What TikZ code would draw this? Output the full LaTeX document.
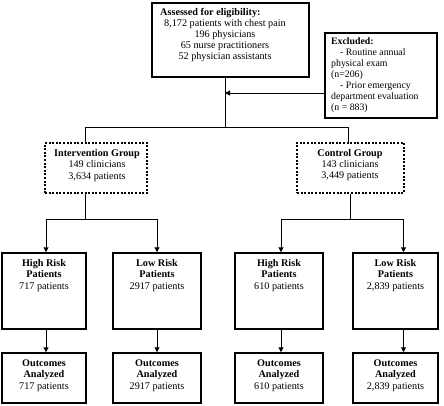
\documentclass[tikz,border=0pt]{standalone}
\usepackage{fontspec}
\setmainfont{Liberation Serif}
\usetikzlibrary{arrows.meta}
\begin{document}
\begin{tikzpicture}[x=1pt,y=-1pt,
  font=\fontsize{10.2}{11.2}\selectfont,
  box/.style={draw, line width=1.5pt, inner sep=0pt},
  dbox/.style={draw, line width=1.2pt, dash pattern=on 2pt off 1.6pt, inner sep=0pt},
  txt/.style={inner sep=0pt, align=center},
  conn/.style={draw, line width=1pt},
  arr/.style={conn, -{Triangle[length=5pt,width=5pt]}}]
\useasboundingbox (0,0) rectangle (444,405);
\fill[white] (0,0) rectangle (444,405);

% top box
\node[box, minimum width=157pt, minimum height=74pt] (top) at (230.5,40) {};
\node[txt, anchor=west] (t1) at (160,13) {\bfseries Assessed for eligibility:};
\node[txt] (t2) at (225,40.5) {8,172 patients with chest pain\\196 physicians\\65 nurse practitioners\\52 physician assistants};

% excluded box
\node[box, minimum width=112pt, minimum height=85pt] (excl) at (381,75.5) {};
\node[txt, align=left, anchor=north west, font=\fontsize{9.8}{11}\selectfont] (et) at (331,37.5)
  {\textbf{Excluded:}\\\hspace{9pt}- Routine annual\\physical exam\\(n=206)\\\hspace{9pt}- Prior emergency\\department evaluation\\(n = 883)};

% groups
\node[dbox, minimum width=102pt, minimum height=50pt] (int) at (96,168) {};
\node[txt] (intt) at (97,165.5) {\textbf{Intervention Group}\\149 clinicians\\3,634 patients};
\node[dbox, minimum width=107pt, minimum height=50pt] (ctl) at (350.5,168) {};
\node[txt] (ctlt) at (350,165) {\textbf{Control Group}\\143 clinicians\\3,449 patients};

% risk boxes
\node[box, minimum width=84pt, minimum height=76pt] (h1) at (44,291) {};
\node[box, minimum width=88pt, minimum height=76pt] (l1) at (157,291) {};
\node[box, minimum width=88pt, minimum height=76pt] (h2) at (279,291) {};
\node[box, minimum width=85pt, minimum height=76pt] (l2) at (395.5,291) {};
\begin{scope}[font=\fontsize{10.2}{11.5}\selectfont]
\node[txt] (h1t) at (44,275.5) {\textbf{High Risk}\\\textbf{Patients}\\717 patients};
\node[txt] (l1t) at (157,275.5) {\textbf{Low Risk}\\\textbf{Patients}\\2917 patients};
\node[txt] (h2t) at (279,275.5) {\textbf{High Risk}\\\textbf{Patients}\\610 patients};
\node[txt] (l2t) at (395.5,275.5) {\textbf{Low Risk}\\\textbf{Patients}\\2,839 patients};
\end{scope}

% outcome boxes
\node[box, minimum width=84pt, minimum height=50pt] (o1) at (44,378) {};
\node[box, minimum width=88pt, minimum height=50pt] (o2) at (157,378) {};
\node[box, minimum width=88pt, minimum height=50pt] (o3) at (279,378) {};
\node[box, minimum width=85pt, minimum height=50pt] (o4) at (395.5,378) {};
\begin{scope}[font=\fontsize{10.2}{11.5}\selectfont]
\node[txt] (o1t) at (44,375.5) {\textbf{Outcomes}\\\textbf{Analyzed}\\717 patients};
\node[txt] (o2t) at (157,375.5) {\textbf{Outcomes}\\\textbf{Analyzed}\\2917 patients};
\node[txt] (o3t) at (279,375.5) {\textbf{Outcomes}\\\textbf{Analyzed}\\610 patients};
\node[txt] (o4t) at (395.5,375.5) {\textbf{Outcomes}\\\textbf{Analyzed}\\2,839 patients};
\end{scope}

% junction coordinates
\coordinate (j1) at (225,93);
\coordinate (j2) at (225,127);
\coordinate (ji) at (85,127);
\coordinate (jc) at (348,127);
\coordinate (ki) at (85,219);
\coordinate (kc) at (350,219);
\coordinate (a1) at (46,219);
\coordinate (a2) at (157,219);
\coordinate (a3) at (281,219);
\coordinate (a4) at (403.5,219);

% connectors
\draw[conn] (top.south -| j1) -- (j2);
\draw[arr] (excl.west |- j1) -- (j1);
\draw[conn] (int.north -| ji) -- (ji) -- (jc) -- (ctl.north -| jc);
\draw[conn] (int.south -| ki) -- (ki);
\draw[conn] (ctl.south -| kc) -- (kc);
\draw[conn] (a1) -- (a2);
\draw[conn] (a3) -- (a4);
\draw[arr] (a1) -- (a1 |- h1.north);
\draw[arr] (a2) -- (a2 |- l1.north);
\draw[arr] (a3) -- (a3 |- h2.north);
\draw[arr] (a4) -- (a4 |- l2.north);
\draw[arr] (h1.south -| a1) -- (a1 |- o1.north);
\draw[arr] (l1.south -| a2) -- (a2 |- o2.north);
\draw[arr] (h2.south -| a3) -- (a3 |- o3.north);
\draw[arr] (l2.south -| a4) -- (a4 |- o4.north);
\end{tikzpicture}
\end{document}
